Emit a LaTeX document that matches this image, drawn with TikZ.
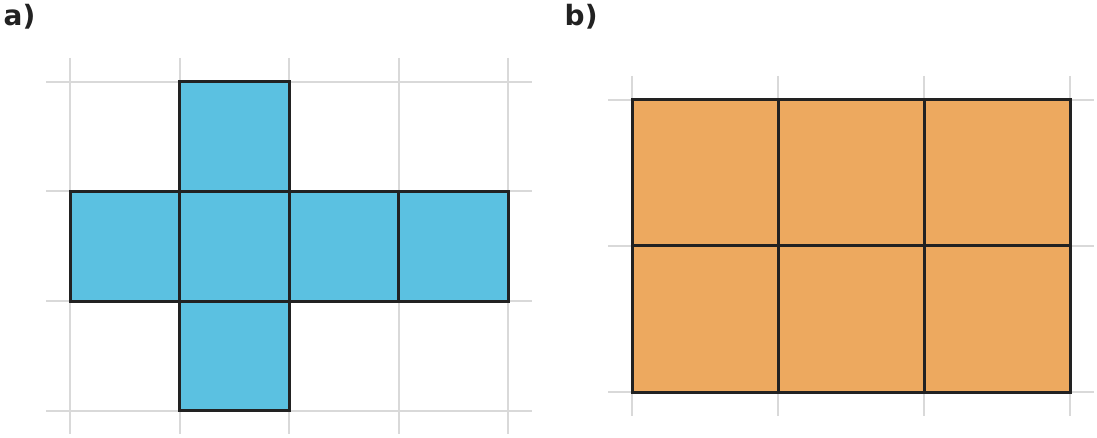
\documentclass[tikz,border=0pt]{standalone}
\usepackage{fontspec}
\setmainfont{DejaVu Sans}
\definecolor{cellblue}{HTML}{5BC1E1}
\definecolor{cellorange}{HTML}{EDA95F}
\definecolor{gridgray}{HTML}{D9D9D9}
\definecolor{edgedark}{HTML}{222222}
\tikzset{
  gridline/.style={draw=gridgray,line width=2pt},
  cellbox/.style={draw=edgedark,line width=3pt},
  panellabel/.style={anchor=base west,inner sep=0pt,text=edgedark,
    font=\bfseries\fontsize{28}{32}\selectfont}
}
\begin{document}
\begin{tikzpicture}[x=1pt,y=-1pt]
\useasboundingbox (0,0) rectangle (1097,438);
% panel a: grid
\foreach \x in {70,179.5,289,398.5,508}
  \draw[gridline] (\x,58) -- (\x,434);
\foreach \y in {82,191.5,301,410.5}
  \draw[gridline] (46,\y) -- (532,\y);
% panel a: net of the cube
\foreach \x/\y in {179.5/82,70/191.5,179.5/191.5,289/191.5,398.5/191.5,179.5/301}
  \draw[cellbox,fill=cellblue] (\x,\y) rectangle ++(109.5,109.5);
% panel b: grid
\foreach \x in {632,778,924,1070}
  \draw[gridline] (\x,76) -- (\x,416);
\foreach \y in {100,246,392}
  \draw[gridline] (608,\y) -- (1094,\y);
% panel b: six squares
\foreach \i in {0,1,2}
  \foreach \j in {0,1}
    \draw[cellbox,fill=cellorange] (632+146*\i,100+146*\j) rectangle ++(146,146);
% labels
\node[panellabel] (labela) at (3.5,25.5) {a)};
\node[panellabel] (labelb) at (564.5,25.5) {b)};
\end{tikzpicture}
\end{document}
